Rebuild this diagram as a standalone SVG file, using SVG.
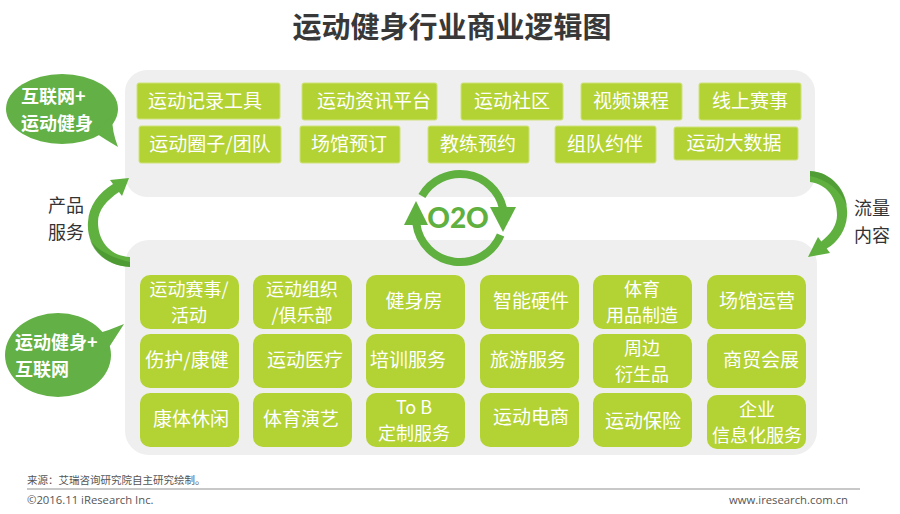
<svg xmlns="http://www.w3.org/2000/svg" width="900" height="514" viewBox="0 0 900 514">
<style>
.cn{font-family:"Noto Sans CJK SC","Liberation Sans",sans-serif}
.title{font-size:29px;font-weight:bold;fill:#383838;text-anchor:middle}
.panel{fill:#efefef}
.tb{fill:#b3d234;stroke:#cfe27c;stroke-width:1}
.bb{fill:#b3d234}
.bt{font-size:19px;fill:#fff;text-anchor:middle}
.bt2{font-size:18px;fill:#fff;text-anchor:middle}
.bub{fill:#62b046}
.bubt{font-size:18px;font-weight:bold;fill:#fff}
.side{font-size:18px;fill:#333;text-anchor:middle}
.arr{fill:#5fb03f}
.ring{fill:none;stroke:#5fb03f;stroke-width:8}
.foot{fill:#555}
</style>
<rect width="900" height="514" fill="#fff"/>
<text class="cn title" x="452" y="38">运动健身行业商业逻辑图</text>

<rect id="panel-top" class="panel" x="125" y="70" width="690" height="127" rx="22"/>
<rect id="panel-bottom" class="panel" x="125" y="240" width="692" height="215" rx="24"/>

<g id="bubble-top">
<ellipse class="bub" cx="62" cy="109" rx="56" ry="35"/>
<path class="bub" d="M94,132 Q106,140 118,147 Q112,132 112,116 Z"/>
<text class="cn bubt" x="21" y="103">互联网+<tspan x="21" dy="26.5">运动健身</tspan></text>
</g>
<g id="bubble-bottom">
<ellipse class="bub" cx="58" cy="355" rx="53" ry="42"/>
<path class="bub" d="M96,334 Q110,330 124,324 Q115,338 106,352 Z"/>
<text class="cn bubt" x="15" y="349">运动健身+<tspan x="15" dy="26.5">互联网</tspan></text>
</g>

<g id="label-left"><text class="cn side" x="66" y="212">产品<tspan x="66" dy="26.5">服务</tspan></text></g>
<g id="label-right"><text class="cn side" x="872" y="215">流量<tspan x="872" dy="26.5">内容</tspan></text></g>

<g id="connectors">
<path class="arr" d="M130,267 C104,266 86,246 88,222 C89,205 99,193 113,184 L110,180 L129,178 L122,196 L119,192 C107,200 98,210 98,222 C98,241 110,256 130,257 Z"/>
<path fill="#3f8a2a" opacity="0.55" d="M130,267 C110,266 95,255 90,240 C97,250 112,258 130,262 Z"/>
<path class="arr" d="M810,171 C833,172 849,193 847,216 C846,230 838,242 826.7,248.6 L830,253 L808,257 L818,237 L821.3,241.4 C831,234 837,225 837,215 C837,197 826,184 810,182 Z"/>
<path fill="#3f8a2a" opacity="0.45" d="M810,171 C830,172 845,188 847,206 C840,190 828,180 810,176 Z"/>
<g id="o2o">
<path class="ring" d="M421.9,196 A44,44 0 0,1 502.9,208"/>
<path class="ring" d="M500.6,235 A44,44 0 0,1 416.4,224"/>
<polygon class="arr" points="490,207 516,207 503,232"/>
<polygon class="arr" points="404,225 428,225 416,201"/>
<text x="458" y="228" font-family="Lato,'Open Sans',sans-serif" font-weight="900" font-size="28" fill="#5fb03f" text-anchor="middle">O2O</text>
</g>
</g>

<g id="top-nodes">
<g id="n-t1"><rect class="tb" x="137" y="83" width="143" height="36" rx="2"/><text class="cn bt" x="205" y="108">运动记录工具</text></g>
<g id="n-t2"><rect class="tb" x="302" y="83" width="135" height="37" rx="2"/><text class="cn bt" x="374" y="108">运动资讯平台</text></g>
<g id="n-t3"><rect class="tb" x="461" y="83" width="102" height="37" rx="2"/><text class="cn bt" x="512" y="108">运动社区</text></g>
<g id="n-t4"><rect class="tb" x="581" y="83" width="101" height="37" rx="2"/><text class="cn bt" x="631" y="108">视频课程</text></g>
<g id="n-t5"><rect class="tb" x="699" y="83" width="102" height="37" rx="2"/><text class="cn bt" x="750" y="108">线上赛事</text></g>
<g id="n-t6"><rect class="tb" x="139" y="126" width="142" height="37" rx="2"/><text class="cn bt" x="210" y="151">运动圈子/团队</text></g>
<g id="n-t7"><rect class="tb" x="300" y="126" width="100" height="37" rx="2"/><text class="cn bt" x="349" y="151">场馆预订</text></g>
<g id="n-t8"><rect class="tb" x="428" y="126" width="101" height="37" rx="2"/><text class="cn bt" x="478" y="151">教练预约</text></g>
<g id="n-t9"><rect class="tb" x="555" y="126" width="101" height="37" rx="2"/><text class="cn bt" x="605" y="151">组队约伴</text></g>
<g id="n-t10"><rect class="tb" x="674" y="127" width="124" height="33" rx="2"/><text class="cn bt" x="734" y="150">运动大数据</text></g>
</g>

<g id="bottom-nodes">
<g id="n-b1"><rect class="bb" x="140" y="275" width="99" height="54" rx="10"/><text class="cn bt2" x="189" y="295.5">运动赛事/<tspan x="189" dy="26.5">活动</tspan></text></g>
<g id="n-b2"><rect class="bb" x="253" y="275" width="99" height="54" rx="10"/><text class="cn bt2" x="302" y="295.5">运动组织<tspan x="302" dy="26.5">/俱乐部</tspan></text></g>
<g id="n-b3"><rect class="bb" x="366" y="275" width="99" height="54" rx="10"/><text class="cn bt" x="414" y="308">健身房</text></g>
<g id="n-b4"><rect class="bb" x="480" y="275" width="99" height="54" rx="10"/><text class="cn bt" x="531" y="308">智能硬件</text></g>
<g id="n-b5"><rect class="bb" x="593" y="275" width="99" height="54" rx="10"/><text class="cn bt2" x="642" y="295.5">体育<tspan x="642" dy="26.5">用品制造</tspan></text></g>
<g id="n-b6"><rect class="bb" x="707" y="275" width="99" height="54" rx="10"/><text class="cn bt" x="757" y="308">场馆运营</text></g>
<g id="n-b7"><rect class="bb" x="140" y="334" width="99" height="54" rx="10"/><text class="cn bt" x="187" y="367">伤护/康健</text></g>
<g id="n-b8"><rect class="bb" x="253" y="334" width="99" height="54" rx="10"/><text class="cn bt" x="305" y="367">运动医疗</text></g>
<g id="n-b9"><rect class="bb" x="366" y="334" width="99" height="54" rx="10"/><text class="cn bt" x="408" y="367">培训服务</text></g>
<g id="n-b10"><rect class="bb" x="480" y="334" width="99" height="54" rx="10"/><text class="cn bt" x="528" y="367">旅游服务</text></g>
<g id="n-b11"><rect class="bb" x="593" y="334" width="99" height="54" rx="10"/><text class="cn bt2" x="642" y="354.5">周边<tspan x="642" dy="26.5">衍生品</tspan></text></g>
<g id="n-b12"><rect class="bb" x="707" y="334" width="99" height="54" rx="10"/><text class="cn bt" x="761" y="367">商贸会展</text></g>
<g id="n-b13"><rect class="bb" x="140" y="393" width="99" height="54" rx="10"/><text class="cn bt" x="191" y="426">康体休闲</text></g>
<g id="n-b14"><rect class="bb" x="253" y="393" width="99" height="54" rx="10"/><text class="cn bt" x="301" y="426">体育演艺</text></g>
<g id="n-b15"><rect class="bb" x="366" y="393" width="99" height="54" rx="10"/><text class="cn bt2" x="414" y="413.5">To B<tspan x="414" dy="26.5">定制服务</tspan></text></g>
<g id="n-b16"><rect class="bb" x="480" y="393" width="99" height="54" rx="10"/><text class="cn bt" x="531" y="424">运动电商</text></g>
<g id="n-b17"><rect class="bb" x="593" y="393" width="99" height="54" rx="10"/><text class="cn bt" x="643" y="428">运动保险</text></g>
<g id="n-b18"><rect class="bb" x="707" y="395" width="99" height="54" rx="10"/><text class="cn bt2" x="757" y="415.5">企业<tspan x="757" dy="26.5">信息化服务</tspan></text></g>
</g>

<g id="footer">
<text class="cn foot" x="27" y="484" font-size="10.5">来源：艾瑞咨询研究院自主研究绘制。</text>
<line x1="27" y1="489" x2="860" y2="489" stroke="#c8c8c8" stroke-width="2"/>
<text class="foot" x="27" y="504" font-size="11.3" font-family="'Open Sans','Liberation Sans',sans-serif">©2016.11 iResearch Inc.</text>
<text class="foot" x="848" y="504" font-size="11.3" font-family="'Open Sans','Liberation Sans',sans-serif" text-anchor="end">www.iresearch.com.cn</text>
</g>
</svg>
